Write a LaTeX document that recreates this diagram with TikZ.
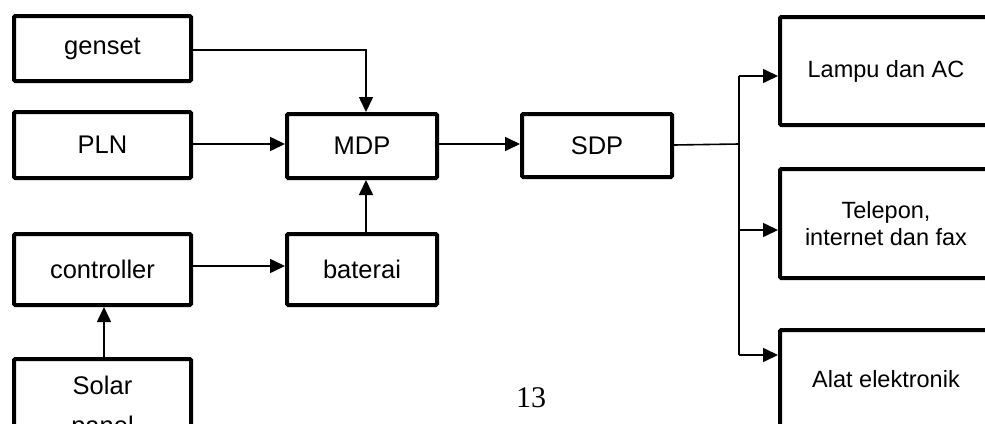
\documentclass[tikz,border=0pt]{standalone}
\usepackage{fontspec}
\setmainfont{Liberation Sans}
\newfontfamily\numfont{Liberation Serif}
\usetikzlibrary{arrows.meta}

\tikzset{
  unit/.style={draw, line width=4pt, rounded corners=1.2pt, inner sep=0pt,
               align=center},
  srcbox/.style={unit, font=\fontsize{25.5}{30}\selectfont},
  loadbox/.style={unit, font=\fontsize{23.5}{27}\selectfont},
  feed/.style={line width=1.6pt},
  arr/.style={feed, -{Triangle[length=15pt,width=14pt]}},
}

\begin{document}
\begin{tikzpicture}[x=1pt,y=-1pt]
  \useasboundingbox (0,0) rectangle (985,423);
  \clip (0,0) rectangle (985,423);

  % supply side
  \node[srcbox, minimum width=177pt, minimum height=65pt] (genset) at (102.5,48.5) {genset};
  \node[srcbox, minimum width=177pt, minimum height=66pt] (pln)    at (102.5,145)  {PLN};
  \node[srcbox, minimum width=177pt, minimum height=71pt] (ctrl)   at (102.5,269.5) {controller};
  \node[srcbox, minimum width=177pt, minimum height=98pt,
        font=\fontsize{25.5}{40}\selectfont] (solar) at (102.5,408) {Solar\\panel};

  % distribution panels
  \node[srcbox, minimum width=150pt, minimum height=64pt] (mdp) at (362,146)   {MDP};
  \node[srcbox, minimum width=150pt, minimum height=71pt] (bat) at (362,269.5) {baterai};
  \node[srcbox, minimum width=150pt, minimum height=63pt] (sdp) at (597,145.5) {SDP};

  % loads
  \node[loadbox, minimum width=212pt, minimum height=108pt] (lampu) at (886,71)    {Lampu dan AC};
  \node[loadbox, minimum width=212pt, minimum height=109pt] (telp)  at (886,223.5) {Telepon,\\internet dan fax};
  \node[loadbox, minimum width=212pt, minimum height=98pt]  (alat)  at (886,379)   {Alat elektronik};

  % page number
  \node[font=\numfont\fontsize{30}{34}\selectfont, inner sep=0pt] (pagenum) at (531,398) {13};

  % feeders into the MDP
  \draw[arr] (genset.east |- 0,50) -| ([xshift=4pt]mdp.north);
  \draw[arr] (pln.east |- 0,144) -- (mdp.west |- 0,144);
  \draw[arr] ([xshift=4pt]bat.north) -- ([xshift=4pt]mdp.south);
  \draw[arr] (ctrl.east |- 0,266) -- (bat.west |- 0,266);
  \draw[arr] ([xshift=1.5pt]solar.north) -- ([xshift=1.5pt]ctrl.south);
  \draw[arr] (mdp.east |- 0,144) -- (sdp.west |- 0,144);

  % SDP busbar to the loads
  \coordinate (jmid) at (739,144);
  \coordinate (jtop) at (739,76);
  \coordinate (jtel) at (739,230);
  \coordinate (jbot) at (739,355);
  \draw[feed] (sdp.east |- 0,145) -- (jmid);
  \draw[feed] (jtop) -- (jbot);
  \draw[arr] (jtop) -- (jtop -| lampu.west);
  \draw[arr] (jtel) -- (jtel -| telp.west);
  \draw[arr] (jbot) -- (jbot -| alat.west);
\end{tikzpicture}
\end{document}
